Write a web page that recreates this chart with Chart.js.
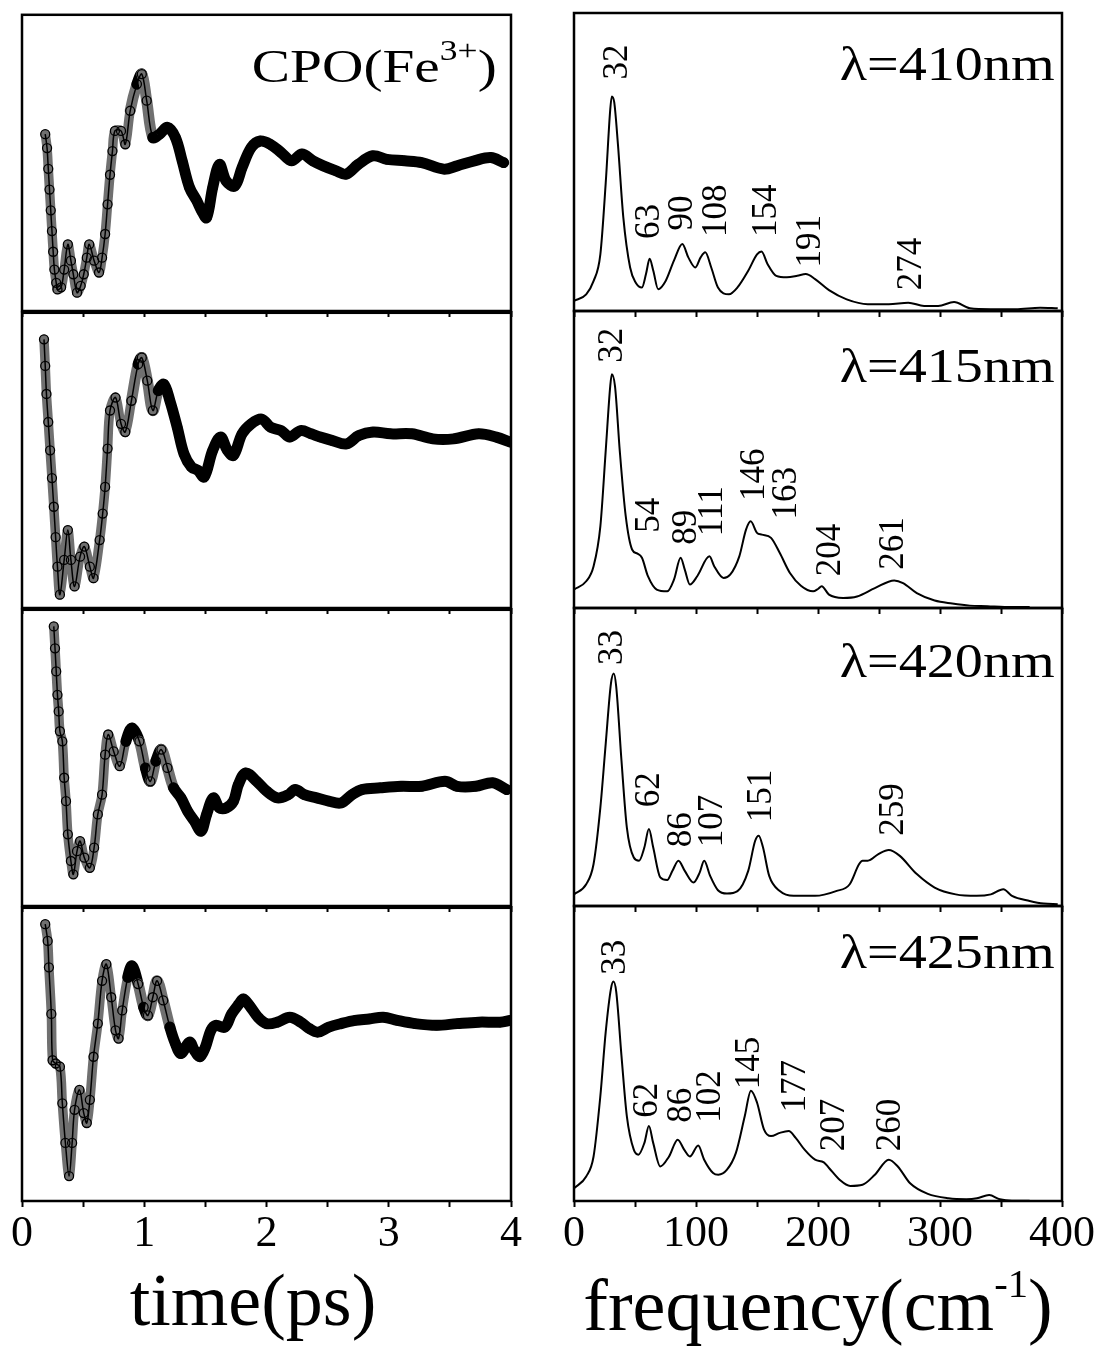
<!DOCTYPE html>
<html>
<head>
<meta charset="utf-8">
<script src="https://cdn.jsdelivr.net/npm/chart.js@4.4.1/dist/chart.umd.min.js"></script>
<style>
  html, body { margin: 0; padding: 0; background: #fff; width: 1100px; height: 1347px; overflow: hidden; }
  body { position: relative; font-family: 'Liberation Serif', 'Times New Roman', serif; color: #000; }
  .panel { position: absolute; }
  .txt { position: absolute; white-space: nowrap; line-height: 1; z-index: 5; }
  .sup { position: relative; }
</style>
</head>
<body>

<div class="txt" style="right:603px; top:43px; font-size:47px; transform:scaleX(1.22); transform-origin:right;">CPO(Fe<span class="sup" style="font-size:0.62em; top:-0.75em;">3+</span>)</div>
<div class="txt" style="right:45px; top:40px; font-size:48px; transform:scaleX(1.17); transform-origin:right;">λ=410nm</div>
<div class="txt" style="right:45px; top:342px; font-size:48px; transform:scaleX(1.17); transform-origin:right;">λ=415nm</div>
<div class="txt" style="right:45px; top:637px; font-size:48px; transform:scaleX(1.17); transform-origin:right;">λ=420nm</div>
<div class="txt" style="right:45px; top:928px; font-size:48px; transform:scaleX(1.17); transform-origin:right;">λ=425nm</div>
<div class="txt" style="left:53px; width:400px; text-align:center; top:1263px; font-size:74px;">time(ps)</div>
<div class="txt" style="left:568px; width:500px; text-align:center; top:1268px; font-size:74px;">frequency(cm<span class="sup" style="font-size:0.55em; top:-0.8em;">-1</span>)</div>

<script>
// time traces, [time (ps), signal (% of panel height)]
const trace410 = [[0.19,59.7],[0.205,55],[0.215,48],[0.225,41],[0.235,34],[0.245,27],[0.255,20],[0.265,14],[0.28,9.5],[0.29,7.3],
  [0.32,8],[0.345,14],[0.375,22.5],[0.40,17],[0.42,12.4],[0.45,6.2],[0.48,8.5],[0.505,12.4],[0.53,18],[0.55,22.5],
  [0.59,17],[0.63,13],[0.655,18],[0.68,26],[0.70,36],[0.72,46],[0.74,54],[0.76,60.8],[0.81,60.8],[0.845,56.3],
  [0.885,67.6],[0.94,76.6],[0.98,80],[1.02,71],[1.07,58.6],[1.125,59.7],[1.19,62],[1.255,58.6],[1.31,50.7],[1.37,41.7],
  [1.43,37.2],[1.47,33.8],[1.51,31.5],[1.56,41.7],[1.615,49.5],[1.67,43.9],[1.74,42.2],[1.80,48.4],[1.875,55.2],[1.95,57.4],
  [2.03,56.3],[2.12,53.5],[2.205,50.7],[2.29,53],[2.38,50.7],[2.465,49],[2.57,47.3],[2.65,46.2],[2.75,49.5],[2.87,52.4],
  [2.985,51.2],[3.13,50.7],[3.27,50.1],[3.45,47.9],[3.56,49],[3.70,50.7],[3.835,51.8],[3.94,50.1]];
const trace415 = [[0.18,91],[0.19,82],[0.20,72.5],[0.215,63],[0.23,53.4],[0.245,44],[0.26,34.3],[0.275,24],[0.29,14],[0.31,4.5],
  [0.345,16.3],[0.375,26.4],[0.40,16.3],[0.43,7.3],[0.475,17.4],[0.51,20.8],[0.555,14],[0.585,10.1],[0.635,23],[0.66,32],
  [0.68,41],[0.70,54],[0.72,66.9],[0.765,71.3],[0.81,62.4],[0.845,59.6],[0.895,70.2],[0.95,82.6],[0.98,84.8],[1.025,77],
  [1.07,66.9],[1.115,73.6],[1.16,75.8],[1.21,70.2],[1.27,61.2],[1.325,52.2],[1.385,47.8],[1.44,46.6],[1.49,44.4],[1.56,53.4],
  [1.625,57.9],[1.68,53.4],[1.73,51.7],[1.80,59],[1.875,62.4],[1.96,64],[2.035,61.2],[2.12,60.1],[2.19,57.9],[2.28,60.1],
  [2.365,59],[2.44,57.9],[2.54,56.7],[2.655,55.6],[2.755,58.4],[2.87,59.6],[3.015,59],[3.19,59],[3.36,57.3],[3.53,57.3],
  [3.735,59],[3.88,57.9],[3.995,56.2]];
const trace420 = [[0.26,94.4],[0.27,87],[0.28,79.2],[0.29,71.3],[0.30,65.7],[0.31,59],[0.33,55.6],[0.345,43.3],[0.36,35.4],[0.375,24.2],
  [0.40,15.2],[0.42,10.7],[0.45,18.5],[0.475,21.9],[0.51,16.3],[0.555,12.9],[0.59,19.7],[0.62,30.9],[0.655,37.6],[0.68,51.1],
  [0.705,57.9],[0.75,52.2],[0.80,47.2],[0.85,55.6],[0.90,60.1],[0.96,55.6],[1.01,46.6],[1.05,42.1],[1.095,48.9],[1.14,52.8],
  [1.19,46.6],[1.24,39.9],[1.30,36.5],[1.355,32],[1.41,28.7],[1.465,25.3],[1.51,30.9],[1.565,36.5],[1.615,33.1],[1.67,33.1],
  [1.73,35.4],[1.77,41],[1.83,44.9],[1.92,42.1],[2.00,38.8],[2.09,36.5],[2.18,37.6],[2.235,39.3],[2.31,37.6],[2.41,36.5],
  [2.51,35.4],[2.61,34.8],[2.70,37.6],[2.78,39.3],[2.93,39.9],[3.10,40.4],[3.27,40.4],[3.46,42.1],[3.56,40.4],[3.71,40.4],
  [3.85,41.6],[3.965,39.3]];
const trace425 = [[0.19,94.4],[0.21,88.7],[0.22,79.7],[0.24,63.8],[0.25,48],[0.275,46.9],[0.31,45.8],[0.33,33.3],[0.355,19.8],[0.385,8.5],
  [0.41,19.8],[0.43,31.1],[0.47,37.9],[0.505,30],[0.53,26.6],[0.555,34.5],[0.585,49.2],[0.62,60.5],[0.655,75.1],[0.69,80.8],
  [0.73,69.5],[0.765,58.2],[0.79,55.4],[0.82,65],[0.865,76.3],[0.90,80.2],[0.95,74],[0.995,66.1],[1.03,63.3],[1.07,69.5],
  [1.105,75.1],[1.155,68.4],[1.21,59.3],[1.255,53.7],[1.30,50.3],[1.37,54.2],[1.41,51.4],[1.455,49.2],[1.50,52.5],[1.545,58.2],
  [1.585,59.9],[1.66,59.3],[1.715,63.8],[1.775,67.2],[1.81,68.9],[1.86,66.7],[1.93,62.7],[2.0,60.5],[2.09,61],[2.19,62.7],
  [2.28,61],[2.35,58.8],[2.42,57.6],[2.51,59.3],[2.61,60.5],[2.725,61.6],[2.84,62.1],[2.955,62.7],[3.07,61.6],[3.215,60.5],
  [3.39,59.9],[3.56,60.5],[3.735,61],[3.91,61],[3.995,61.6]];

// spectra, [frequency (cm-1), amplitude (% of panel height)]
const spec410 = [[0,3.4],[10,5.6],[16,10],[21.6,19],[26,43],[29.7,67.6],[31,72],[33,70],[36,56],[40.4,31.5],[46,14.6],[50.5,9.6],
  [55.7,7.9],[59,12.4],[62,17.5],[65,13.5],[69,7.3],[75,10],[82,17],[88.8,22.5],[93.7,18],[99.5,14.6],[103.8,18],[107.6,19.7],
  [112.5,14.6],[118,7.9],[127,5.6],[134,7.9],[142.8,13.5],[150,19],[153.7,20],[158.6,15.8],[165.8,11.8],[174.5,11.3],[183,11.8],
  [190,12.4],[197.6,10.7],[209,7],[223.5,3.9],[240.8,2.3],[258,2.3],[274,2.8],[287,1.7],[298.5,1.7],[311.5,3],[324.5,0.9],
  [341.8,0.6],[362,0.6],[382,1.1],[396.5,0.9]];
const spec415 = [[0,6.2],[10,9],[16,14],[21.6,27.5],[26,53],[29.7,74.7],[31,78.7],[33.6,74.7],[37.5,53],[42.4,30.9],[47.6,19.7],
  [52,18.3],[55.7,16.9],[60.6,10.7],[67.8,6.2],[76.4,5.6],[82,9.6],[87.4,16.9],[90.8,12.9],[95,7.9],[101,10.7],[111,17.4],[115,14],
  [122.6,10.1],[128,11.2],[135.5,17.4],[141,26.4],[144.8,29.2],[150,25.3],[154,24.7],[161.5,23.6],[168.7,18.5],[177,11.8],[186,7.5],
  [196,5.6],[200,6.4],[203,7.3],[209,4.5],[220.6,3.4],[232,3.9],[246.6,6.7],[262.5,9.3],[269.7,8.4],[281,5],[295.6,2.5],[310,1.5],
  [324.5,0.8],[339,0.6],[353,0.3],[373.5,0.3]];
const spec420 = [[0,3.9],[10,7.3],[16,14],[21.6,33],[26,54.5],[30.3,74.7],[32.6,78],[34.6,73.6],[38.9,48.9],[43.3,26.4],[49,16.3],
  [53.3,15.2],[57.7,19.7],[61.4,25.8],[64.9,19.7],[70.7,9.6],[76.4,8.7],[80.7,11.8],[85.6,15.2],[90.8,11.8],[98,7.9],[103,11.2],
  [106.7,15.2],[111.6,10.1],[118,5.3],[125.4,4.2],[134,5],[142.8,11.8],[148.5,21.9],[151.4,23.6],[154.9,19.7],[160,10.1],[168.7,5],
  [180,3.4],[197.6,3.4],[214.8,5],[226,7.3],[233.6,14],[236.5,15.2],[240.8,15.2],[249.5,17.4],[258,18.8],[266.8,16.9],[281,10.7],
  [295.6,6.2],[312.9,3.9],[330,3.4],[341.7,3.9],[351.9,5.6],[359,3.4],[373.5,1.7],[385,0.8],[396.5,0.6]];
const spec425 = [[0,4.3],[10,8.3],[16,15],[21.6,35.6],[26,57.3],[30.3,72],[32.3,74.4],[34.6,71],[38.9,49.3],[43.3,28.8],[49,17.4],
  [52.8,15.7],[57.7,19.7],[61.4,25.4],[64.9,19.7],[70.7,11.7],[77.9,15.1],[85,20.8],[90.3,17.4],[95,15.1],[101.8,18.8],[106.7,14],
  [114,9.5],[118.3,8.9],[125.4,10.6],[132.7,16.3],[140,28.8],[145,37.4],[150,33.4],[155.7,24.3],[161.5,22],[168.7,23.1],[176,23.7],
  [181.7,21.4],[189,17.4],[197.6,14],[204.8,13.1],[209,11.2],[217.7,7.2],[226.4,5.1],[236.5,5.5],[246.6,8.9],[258,14],[265.4,11.7],
  [275.5,6],[290,2.4],[307,0.9],[321.6,0.6],[330.3,0.9],[340.3,2],[349,0.6],[359,0.1],[373.5,0.1]];

// peak labels: [text, frequency, height] in data units
const peaks410 = [['32',36,77.7],['63',62,24.2],['90',89.4,27],['108',116.8,24.8],['154',157.7,24.8],['191',194,14.6],['274',276.9,7]];
const peaks415 = [['32',31.7,82.6],['54',62,25.3],['89',92.3,21.3],['111',114,24.2],['146',148.5,36],['163',174.5,29.8],['204',210.5,10.7],['261',262.5,12.9]];
const peaks420 = [['33',31.7,80.9],['62',62,33.1],['86',88,19.7],['107',114,19.7],['151',154.3,28.1],['259',262.5,23.6]];
const peaks425 = [['33',34.6,76.7],['62',60.6,28.2],['86',88,26.5],['102',112.5,26.5],['145',144.2,37.9],['177',181.7,30],['207',213.4,16.9],['260',259.5,16.9]];

const timeMax = 4, freqMax = 400;

// layout of the 4x2 grid
const rowTops = [13, 311, 608, 906, 1201];
const cols = [{x0: 22, x1: 511, padL: 20, padR: 20}, {x0: 574, x1: 1062, padL: 20, padR: 36}];
const peakMap = {};

const framePlugin = {
    id: 'frame',
    afterDraw(chart) {
        const a = chart.chartArea, c = chart.ctx;
        c.save();
        c.strokeStyle = '#000';
        c.lineWidth = 2.5;
        c.strokeRect(a.left, a.top, a.right - a.left, a.bottom - a.top);
        c.restore();
    }
};

const peakPlugin = {
    id: 'peakLabels',
    afterDatasetsDraw(chart) {
        const items = peakMap[chart.canvas.id];
        if (!items) return;
        const c = chart.ctx, xs = chart.scales.x, ys = chart.scales.y;
        c.save();
        c.fillStyle = '#000';
        c.font = '35px "Liberation Serif"';
        c.textAlign = 'left';
        c.textBaseline = 'middle';
        items.forEach(p => {
            c.save();
            c.translate(xs.getPixelForValue(p[1]), ys.getPixelForValue(p[2]));
            c.rotate(-Math.PI / 2);
            c.fillText(p[0], 0, 0);
            c.restore();
        });
        c.restore();
    }
};

Chart.register(framePlugin, peakPlugin);

function makePanel(col, row, datasets, xMax, step, labelFn, peaks) {
    const cfg = cols[col];
    const isBottom = row === 3;
    const axisH = isBottom ? 70 : 8;
    const rowH = rowTops[row + 1] - rowTops[row];
    const div = document.createElement('div');
    div.className = 'panel';
    div.style.left = (cfg.x0 - cfg.padL) + 'px';
    div.style.top = (rowTops[row] - 4) + 'px';
    div.style.width = (cfg.x1 - cfg.x0 + cfg.padL + cfg.padR) + 'px';
    div.style.height = (4 + rowH + axisH) + 'px';
    const canvas = document.createElement('canvas');
    canvas.id = 'c' + col + row;
    div.appendChild(canvas);
    document.body.appendChild(div);
    if (peaks) peakMap[canvas.id] = peaks;

    return new Chart(canvas, {
        type: 'line',
        data: { datasets: datasets },
        options: {
            responsive: true,
            maintainAspectRatio: false,
            animation: false,
            layout: { padding: { left: cfg.padL, right: cfg.padR, top: 4, bottom: 0 } },
            plugins: { legend: { display: false }, tooltip: { enabled: false } },
            scales: {
                x: {
                    type: 'linear', min: 0, max: xMax, position: 'bottom',
                    afterFit: s => { s.height = axisH; },
                    border: { display: false },
                    grid: { drawOnChartArea: false, drawTicks: true, tickLength: 6, tickWidth: 2, tickColor: '#000' },
                    ticks: {
                        display: isBottom, stepSize: step, autoSkip: false, maxRotation: 0, padding: 1,
                        color: '#000', font: { family: '"Liberation Serif"', size: 44 },
                        callback: labelFn
                    }
                },
                y: { display: false, min: 0, max: 100 }
            }
        }
    });
}

// the measured points are plotted as open circles; where they crowd together
// they merge into a solid band, on the fast early part they stay open
function traceSets(pts) {
    const xy = pts.map(p => ({ x: p[0], y: p[1] }));
    const band = {
        data: xy,
        order: 2,
        borderColor: '#000',
        borderWidth: 11,
        borderJoinStyle: 'round',
        borderCapStyle: 'round',
        tension: 0.35,
        pointRadius: 0,
        segment: {
            borderColor: c => {
                const t0 = pts[c.p0DataIndex][0];
                const steep = Math.abs(c.p1.y - c.p0.y) > 3 * Math.abs(c.p1.x - c.p0.x);
                return (t0 < 0.85 || (t0 < 1.2 && steep)) ? '#707070' : '#000';
            },
            borderWidth: c => pts[c.p0DataIndex][0] < 0.85 ? 9.5 : 11
        }
    };
    const marks = {
        data: xy,
        order: 1,
        borderColor: '#000',
        borderWidth: 1.5,
        tension: 0.35,
        pointRadius: 4.5,
        pointStyle: 'circle',
        pointBackgroundColor: 'rgba(255,255,255,0)',
        pointBorderColor: '#000',
        pointBorderWidth: 1.3
    };
    return [band, marks];
}

function specSets(pts) {
    return [{
        data: pts.map(p => ({ x: p[0], y: p[1] })),
        borderColor: '#000',
        borderWidth: 2,
        pointRadius: 0,
        cubicInterpolationMode: 'monotone'
    }];
}

const timeLabel = v => Number.isInteger(v) ? String(v) : '';
const freqLabel = v => v % 100 === 0 ? String(v) : '';

function build() {
    [trace410, trace415, trace420, trace425].forEach((t, i) => {
        makePanel(0, i, traceSets(t), timeMax, 0.5, timeLabel, null);
    });
    [[spec410, peaks410], [spec415, peaks415], [spec420, peaks420], [spec425, peaks425]].forEach((s, i) => {
        makePanel(1, i, specSets(s[0]), freqMax, 50, freqLabel, s[1]);
    });
}

document.fonts.load('44px "Liberation Serif"').then(build, build);
</script>
</body>
</html>
